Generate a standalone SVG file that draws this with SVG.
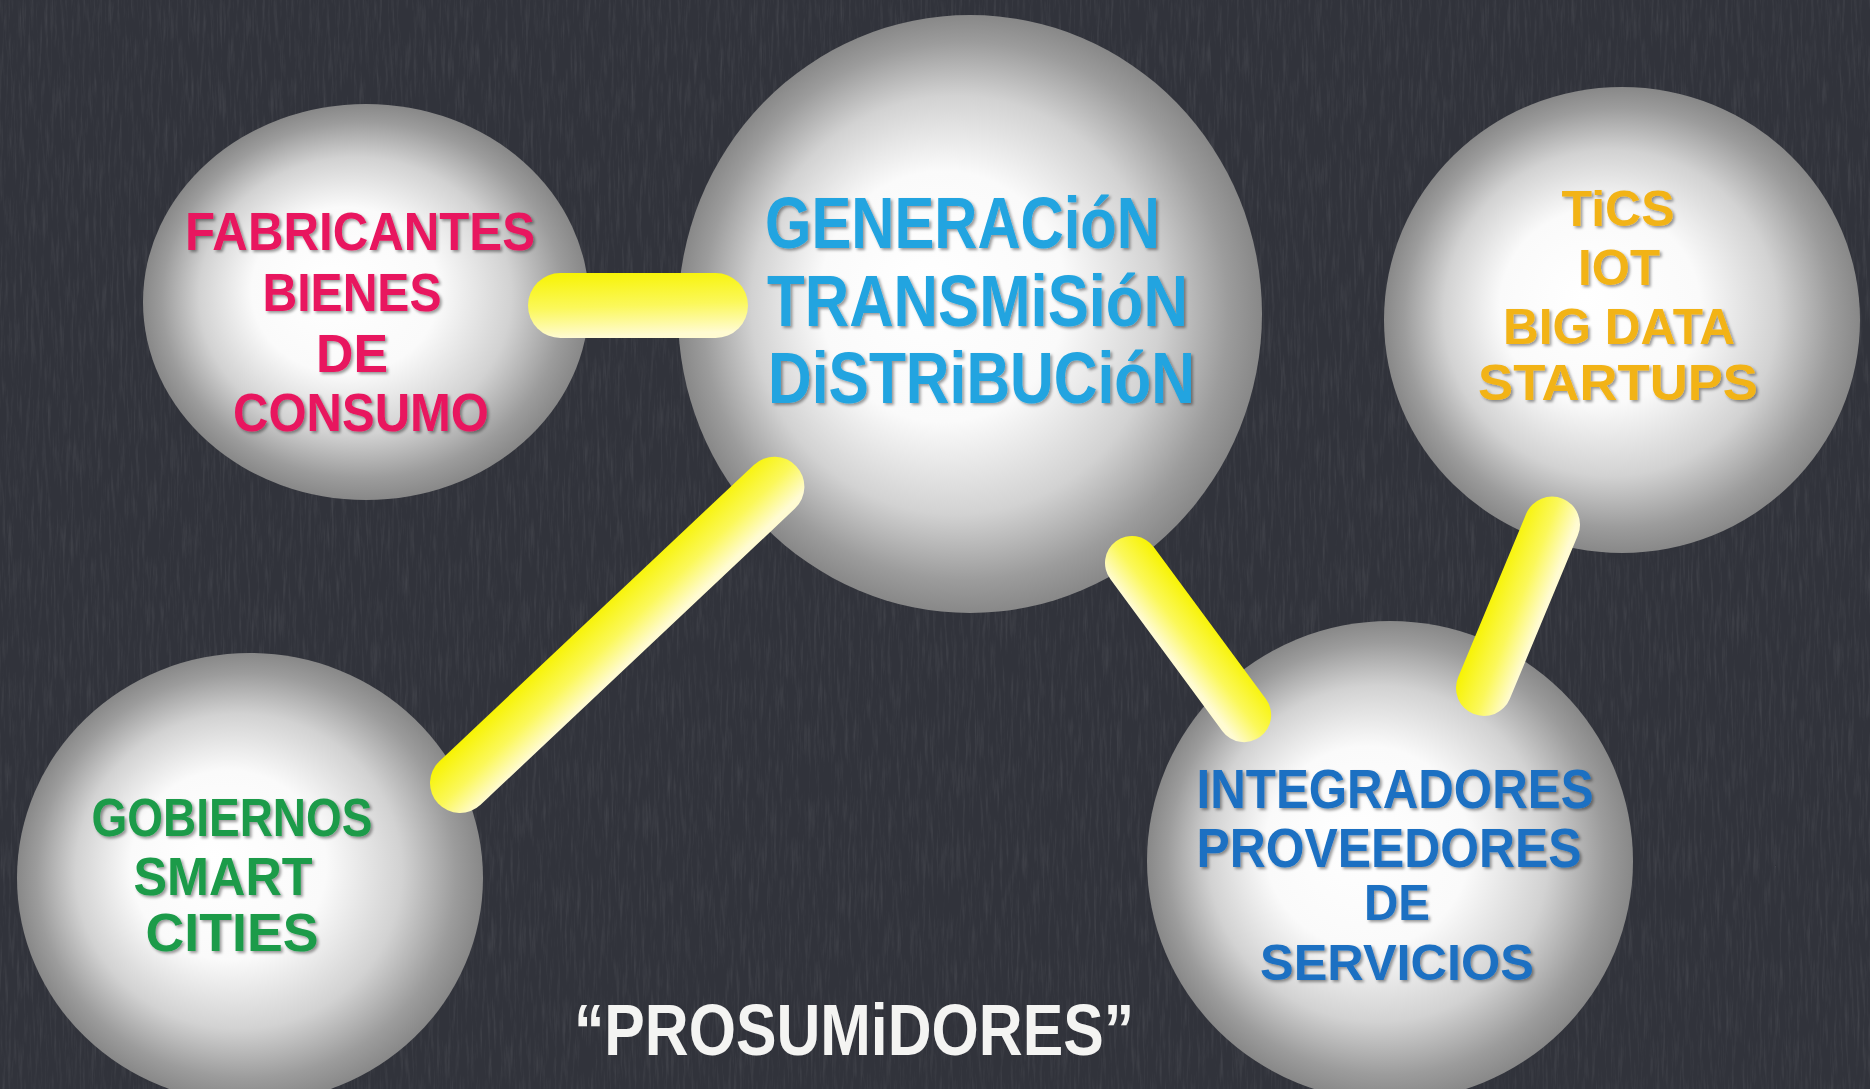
<svg xmlns="http://www.w3.org/2000/svg" width="1870" height="1089" viewBox="0 0 1870 1089">
<defs>
<style>
.t{font-family:"Liberation Sans","DejaVu Sans",sans-serif;font-weight:bold;filter:url(#shadow)}
.pink{fill:#e8195e}
.lblue{fill:#20a4e0}
.orange{fill:#f2b319}
.green{fill:#1b9b4a}
.dblue{fill:#1b6fc2}
.chalk{fill:#f4f4f2;font-family:"Liberation Sans","DejaVu Sans",sans-serif;font-weight:bold}
.sphere{fill:url(#sph)}
.bar{fill:url(#barg)}
</style>
<radialGradient id="sph" cx="0.5" cy="0.5" r="0.5" fx="0.42" fy="0.45">
<stop offset="0" stop-color="#ffffff"/>
<stop offset="0.42" stop-color="#fafafa"/>
<stop offset="0.7" stop-color="#d2d2d2"/>
<stop offset="0.9" stop-color="#9c9c9c"/>
<stop offset="1" stop-color="#888888"/>
</radialGradient>
<linearGradient id="barg" x1="0" y1="0" x2="0.12" y2="1">
<stop offset="0" stop-color="#f7f300"/>
<stop offset="0.55" stop-color="#fbf85a"/>
<stop offset="1" stop-color="#fffbd2"/>
</linearGradient>
<filter id="shadow" x="-10%" y="-20%" width="120%" height="150%">
<feDropShadow dx="2" dy="2" stdDeviation="1.5" flood-color="#000" flood-opacity="0.4"/>
</filter>
<filter id="texture" x="0" y="0" width="100%" height="100%">
<feTurbulence type="fractalNoise" baseFrequency="0.35 0.025" numOctaves="4" seed="7"/>
<feColorMatrix type="matrix" values="0 0 0 0 1  0 0 0 0 1  0 0 0 0 1  1.3 0 0 0 -0.6"/>
</filter>
</defs>
<rect width="1870" height="1089" fill="#31333b"/>
<rect width="1870" height="1089" filter="url(#texture)" opacity="0.12"/>

<g id="node-fabricantes">
<ellipse class="sphere" cx="366" cy="302" rx="223" ry="198"/>
<text class="t pink" font-size="53" text-anchor="middle" x="360" y="250" textLength="350" lengthAdjust="spacingAndGlyphs">FABRICANTES</text>
<text class="t pink" font-size="53" text-anchor="middle" x="352" y="311" textLength="179" lengthAdjust="spacingAndGlyphs">BIENES</text>
<text class="t pink" font-size="53" text-anchor="middle" x="352" y="372" textLength="72" lengthAdjust="spacingAndGlyphs">DE</text>
<text class="t pink" font-size="53" text-anchor="middle" x="361" y="431" textLength="256" lengthAdjust="spacingAndGlyphs">CONSUMO</text>
</g>

<g id="node-generacion">
<ellipse class="sphere" cx="970" cy="314" rx="292" ry="299"/>
<text class="t lblue" font-size="72" x="765" y="248" textLength="395" lengthAdjust="spacingAndGlyphs">GENERACióN</text>
<text class="t lblue" font-size="72" x="767" y="326" textLength="421" lengthAdjust="spacingAndGlyphs">TRANSMiSióN</text>
<text class="t lblue" font-size="72" x="768" y="403" textLength="427" lengthAdjust="spacingAndGlyphs">DiSTRiBUCióN</text>
</g>

<g id="node-tics">
<ellipse class="sphere" cx="1622" cy="320" rx="238" ry="233"/>
<text class="t orange" font-size="50" text-anchor="middle" x="1618" y="226" textLength="113" lengthAdjust="spacingAndGlyphs">TiCS</text>
<text class="t orange" font-size="50" text-anchor="middle" x="1619" y="285" textLength="82" lengthAdjust="spacingAndGlyphs">IOT</text>
<text class="t orange" font-size="50" text-anchor="middle" x="1619" y="344" textLength="232" lengthAdjust="spacingAndGlyphs">BIG DATA</text>
<text class="t orange" font-size="50" text-anchor="middle" x="1618" y="400" textLength="280" lengthAdjust="spacingAndGlyphs">STARTUPS</text>
</g>

<g id="node-gobiernos">
<ellipse class="sphere" cx="250" cy="878" rx="233" ry="225"/>
<text class="t green" font-size="53" text-anchor="middle" x="232" y="836" textLength="281" lengthAdjust="spacingAndGlyphs">GOBIERNOS</text>
<text class="t green" font-size="53" text-anchor="middle" x="223" y="895" textLength="179" lengthAdjust="spacingAndGlyphs">SMART</text>
<text class="t green" font-size="53" text-anchor="middle" x="232" y="951" textLength="173" lengthAdjust="spacingAndGlyphs">CITIES</text>
</g>

<g id="node-integradores">
<ellipse class="sphere" cx="1390" cy="861" rx="243" ry="240"/>
<text class="t dblue" font-size="55" text-anchor="middle" x="1395" y="808" textLength="397" lengthAdjust="spacingAndGlyphs">INTEGRADORES</text>
<text class="t dblue" font-size="55" text-anchor="middle" x="1389" y="867" textLength="385" lengthAdjust="spacingAndGlyphs">PROVEEDORES</text>
<text class="t dblue" font-size="50" text-anchor="middle" x="1397" y="920" textLength="66" lengthAdjust="spacingAndGlyphs">DE</text>
<text class="t dblue" font-size="50" text-anchor="middle" x="1397" y="980" textLength="274" lengthAdjust="spacingAndGlyphs">SERVICIOS</text>
</g>

<g id="connectors">
<rect class="bar" x="528" y="273" width="220" height="65" rx="32.5"/>
<g transform="translate(460,783) rotate(-43.3)"><rect class="bar" x="-30" y="-30" width="492" height="60" rx="30"/></g>
<g transform="translate(1132,563) rotate(53.6)"><rect class="bar" x="-27" y="-27" width="243" height="54" rx="27"/></g>
<g transform="translate(1484,688) rotate(-67.4)"><rect class="bar" x="-28" y="-28" width="233" height="56" rx="28"/></g>
</g>

<g id="caption">
<text class="chalk" font-size="72" text-anchor="middle" x="854" y="1055" textLength="560" lengthAdjust="spacingAndGlyphs">“PROSUMiDORES”</text>
</g>
</svg>
